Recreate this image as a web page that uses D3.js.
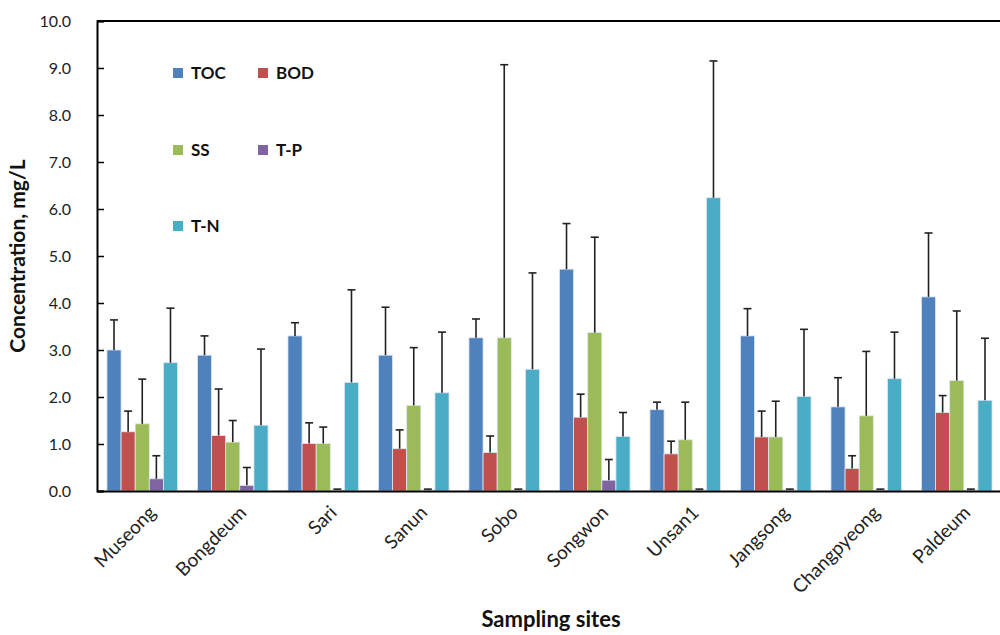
<!DOCTYPE html>
<html><head><meta charset="utf-8">
<script src="https://cdn.jsdelivr.net/npm/d3@7"></script>
<style>body{margin:0;background:#fff}svg{display:block}text{font-family:Lato,"Open Sans",sans-serif}</style>
</head><body><svg id="c" width="1000" height="635"></svg>
<script>
const sites = ["Museong","Bongdeum","Sari","Sanun","Sobo","Songwon","Unsan1","Jangsong","Changpyeong","Paldeum"];
const seriesNames = ["TOC","BOD","SS","T-P","T-N"];
const seriesColors = ["#4F81BD","#C0504D","#9BBB59","#8064A2","#4BACC6"];
const TOC = [3.00,2.89,3.30,2.89,3.26,4.72,1.73,3.30,1.79,4.13];
const TOCerr = [0.64,0.41,0.28,1.02,0.40,0.97,0.16,0.58,0.62,1.36];
const BOD = [1.26,1.18,1.01,0.90,0.82,1.57,0.79,1.15,0.48,1.67];
const BODerr = [0.44,0.99,0.44,0.40,0.35,0.49,0.27,0.55,0.27,0.36];
const SS = [1.43,1.04,1.01,1.82,3.26,3.37,1.09,1.15,1.60,2.35];
const SSerr = [0.95,0.46,0.35,1.23,5.81,2.03,0.80,0.76,1.37,1.48];
const TP = [0.26,0.12,0.02,0.02,0.02,0.23,0.02,0.02,0.02,0.02];
const TPerr = [0.49,0.38,0.02,0.02,0.02,0.44,0.02,0.02,0.02,0.02];
const TN = [2.73,1.40,2.31,2.09,2.59,1.16,6.24,2.01,2.39,1.93];
const TNerr = [1.16,1.62,1.97,1.29,2.05,0.51,2.91,1.43,0.99,1.32];
const yTicks = [0,1,2,3,4,5,6,7,8,9,10];

const values = [TOC,BOD,SS,TP,TN];
const errs = [TOCerr,BODerr,SSerr,TPerr,TNerr];

const svg = d3.select("#c");
const L = 97, R = 1002, T = 21, B = 491;
const x = d3.scaleBand().domain(sites).range([L,R]).paddingInner(0.22).paddingOuter(0.11);
const xs = d3.scaleBand().domain(seriesNames).range([0,x.bandwidth()]);
const y = d3.scaleLinear().domain([0,10]).range([B,T]);

const data = [];
sites.forEach((s,i)=>seriesNames.forEach((n,j)=>data.push({s,n,j,v:values[j][i],e:errs[j][i]})));

// bars
svg.append("g").selectAll("rect").data(data).join("rect")
  .attr("x",d=>x(d.s)+xs(d.n)).attr("width",xs.bandwidth())
  .attr("y",d=>y(d.v)).attr("height",d=>B-y(d.v))
  .attr("fill",d=>seriesColors[d.j]).attr("stroke","#dfe8f2").attr("stroke-width",0.8);

// error bars
const eg = svg.append("g").attr("stroke","#222").attr("stroke-width",1.6);
data.forEach(d=>{
  const cx = x(d.s)+xs(d.n)+xs.bandwidth()/2;
  eg.append("line").attr("x1",cx).attr("x2",cx).attr("y1",y(d.v)).attr("y2",y(d.v+d.e));
  eg.append("line").attr("x1",cx-4).attr("x2",cx+4).attr("y1",y(d.v+d.e)).attr("y2",y(d.v+d.e));
});

// y axis
const ya = svg.append("g").attr("transform",`translate(${L},0)`)
  .call(d3.axisLeft(y).tickValues(yTicks).tickFormat(d3.format(".1f")).tickSize(-7).tickPadding(26));
ya.select(".domain").attr("stroke","#000").attr("stroke-width",2);
ya.selectAll(".tick line").attr("stroke","#000").attr("stroke-width",1.5);
ya.selectAll(".tick text").attr("font-size",16).attr("fill","#222").attr("font-family","Lato,'Open Sans',sans-serif");

// top line
svg.append("line").attr("x1",L).attr("x2",1000).attr("y1",T).attr("y2",T).attr("stroke","#000").attr("stroke-width",2);

// x axis
const xa = svg.append("g").attr("transform",`translate(0,${B})`).call(d3.axisBottom(x).tickSize(0));
xa.select(".domain").attr("stroke","#000").attr("stroke-width",2);
xa.selectAll(".tick text").attr("font-size",19).attr("fill","#222").attr("font-family","Lato,'Open Sans',sans-serif")
  .attr("text-anchor","end").attr("transform","translate(8,16) rotate(-45)").attr("dy","0.35em");

// axis titles
svg.append("text").attr("transform","translate(25,256) rotate(-90)").attr("text-anchor","middle")
  .attr("font-size",21).attr("font-weight","bold").attr("fill","#111").text("Concentration, mg/L");
svg.append("text").attr("x",551).attr("y",627).attr("text-anchor","middle")
  .attr("font-size",22).attr("font-weight","bold").attr("fill","#111").text("Sampling sites");

// legend
const legPos = [[173,68],[258,68],[173,145],[258,145],[173,221]];
const lg = svg.append("g");
seriesNames.forEach((n,j)=>{
  const [lx,ly] = legPos[j];
  lg.append("rect").attr("x",lx).attr("y",ly).attr("width",10).attr("height",10).attr("fill",seriesColors[j]);
  lg.append("text").attr("x",lx+18).attr("y",ly+11).attr("font-size",17).attr("font-weight","bold").attr("fill","#111").text(n);
});
</script></body></html>
